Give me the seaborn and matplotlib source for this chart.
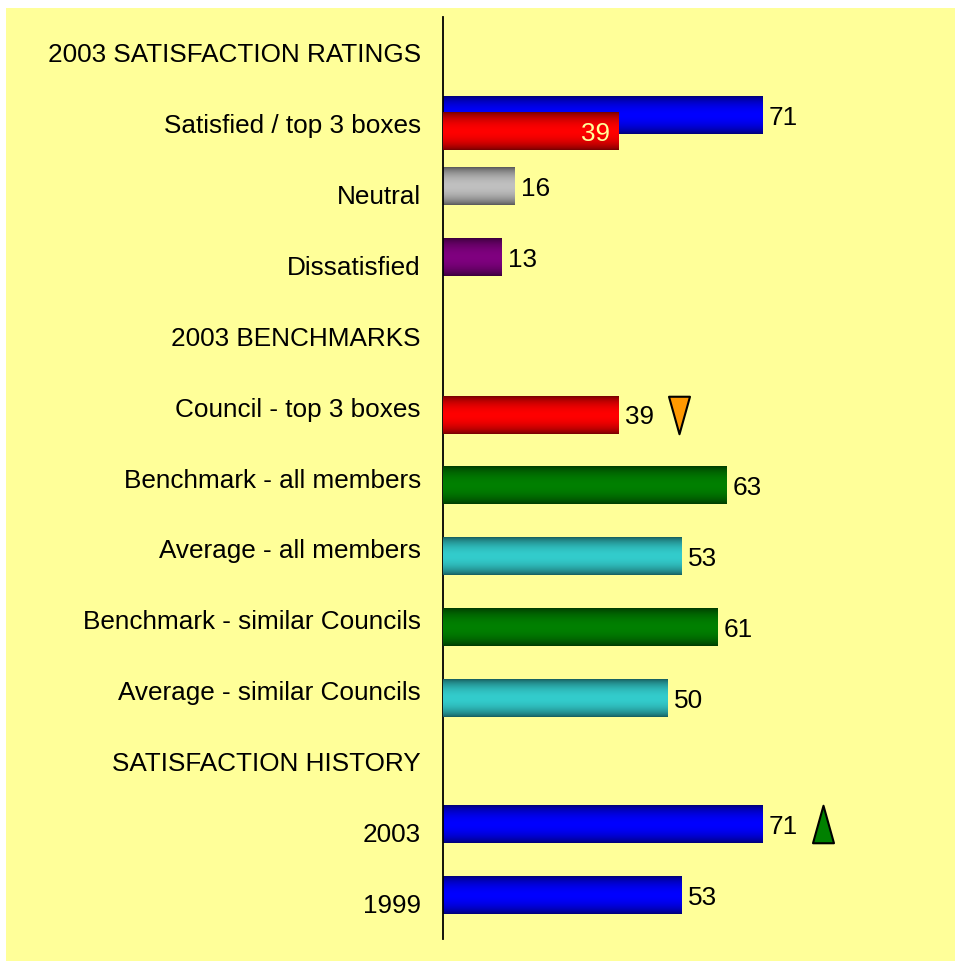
import os
import numpy as np
import pandas as pd
import matplotlib
matplotlib.use("Agg")
import matplotlib.pyplot as plt
import matplotlib.colors as mcolors
from matplotlib import font_manager as fm
from matplotlib.patches import Rectangle
from matplotlib.path import Path
import seaborn as sns

# Row order of the chart (section headers have no bars)
categories = [
    "2003 SATISFACTION RATINGS",
    "Satisfied / top 3 boxes",
    "Neutral",
    "Dissatisfied",
    "2003 BENCHMARKS",
    "Council - top 3 boxes",
    "Benchmark - all members",
    "Average - all members",
    "Benchmark - similar Councils",
    "Average - similar Councils",
    "SATISFACTION HISTORY",
    "2003",
    "1999",
]

# First series (upper bar in a row)
series_a_cats = ["Satisfied / top 3 boxes", "Neutral", "Dissatisfied", "2003", "1999"]
series_a_vals = [71, 16, 13, 71, 53]
series_a_colors = ["#0000FF", "#C0C0C0", "#800080", "#0000FF", "#0000FF"]

# Second series (lower bar in a row)
series_b_cats = ["Satisfied / top 3 boxes", "Council - top 3 boxes", "Benchmark - all members",
                 "Average - all members", "Benchmark - similar Councils", "Average - similar Councils"]
series_b_vals = [39, 39, 63, 53, 61, 50]
series_b_colors = ["#FF0000", "#FF0000", "#008000", "#33CCCC", "#008000", "#33CCCC"]
series_b_label_inside = [True, False, False, False, False, False]

# Trend arrows next to some bars
trend_cats = ["Council - top 3 boxes", "2003"]
trend_dirs = ["down", "up"]
trend_colors = ["#FF9900", "#008000"]

BG = "#FFFF99"
FONT = 18.8
PX_PER_UNIT = 4.5


def regular_font():
    # pick the regular (not narrow) Liberation Sans file explicitly
    for f in fm.fontManager.ttflist:
        if os.path.basename(f.fname).lower() == "liberationsans-regular.ttf":
            return fm.FontProperties(fname=f.fname, size=FONT)
    return fm.FontProperties(family="DejaVu Sans", size=FONT)


def shade(ax, patch, z):
    # cylinder-like vertical gradient: dark edges, bright middle
    x, y = patch.get_x(), patch.get_y()
    w, h = patch.get_width(), patch.get_height()
    base = np.array(mcolors.to_rgb(patch.get_facecolor()))
    t = np.linspace(0, 1, 80)
    f = 0.45 + 0.55 * np.clip(np.sin(np.pi * t), 0, 1) ** 0.7
    img = (f[:, None] * base[None, :])[:, None, :]
    ax.imshow(img, extent=[x, x + w, y + h, y], aspect="auto",
              interpolation="bilinear", zorder=z)
    patch.set_visible(False)


def draw_series(ax, cats, vals, colors, offset, z):
    df = pd.DataFrame({"category": cats, "value": vals})
    n0 = len(ax.patches)
    sns.barplot(data=df, x="value", y="category", hue="category", order=categories,
                hue_order=cats, palette=dict(zip(cats, colors)), width=0.53,
                saturation=1, legend=False, orient="h", ax=ax)
    bars = ax.patches[n0:]
    centers = {}
    for p in bars:
        p.set_y(p.get_y() + offset)
        shade(ax, p, z)
        centers[round(p.get_y() + p.get_height() / 2 - offset)] = (p.get_width(), p.get_y() + p.get_height() / 2)
    return centers


sns.set_style("white")
plt.rcParams["font.family"] = ["Liberation Sans", "DejaVu Sans"]
fp = regular_font()

fig = plt.figure(figsize=(9.55, 9.61), dpi=100)
fig.patches.append(Rectangle((6 / 955, 0), 1, 1 - 8 / 961, transform=fig.transFigure,
                             facecolor=BG, edgecolor="none", zorder=-10))
ax = fig.add_axes([443 / 955, 22 / 961, 512 / 955, 922 / 961])
ax.set_facecolor("none")

cen_a = draw_series(ax, series_a_cats, series_a_vals, series_a_colors, -0.115, 2)
cen_b = draw_series(ax, series_b_cats, series_b_vals, series_b_colors, 0.108, 3)

# value labels
for centers, cats, inside in [(cen_a, series_a_cats, [False] * len(series_a_cats)),
                              (cen_b, series_b_cats, series_b_label_inside)]:
    for c, ins in zip(cats, inside):
        v, yc = centers[categories.index(c)]
        if ins:
            ax.annotate(f"{v:g}", xy=(v, yc), xytext=(-6, 0), textcoords="offset points",
                        ha="right", va="center_baseline", fontproperties=fp, color=BG, zorder=6)
        else:
            ax.annotate(f"{v:g}", xy=(v, yc), xytext=(4.5, 0), textcoords="offset points",
                        ha="left", va="center_baseline", fontproperties=fp, color="black", zorder=6)

# trend markers
down = Path([(-0.56, 1), (0.56, 1), (0, -1), (-0.56, 1)],
            [Path.MOVETO, Path.LINETO, Path.LINETO, Path.CLOSEPOLY])
up = Path([(-0.56, -1), (0.56, -1), (0, 1), (-0.56, -1)],
          [Path.MOVETO, Path.LINETO, Path.LINETO, Path.CLOSEPOLY])
for c, d, col in zip(trend_cats, trend_dirs, trend_colors):
    idx = categories.index(c)
    v, yc = cen_b[idx] if idx in cen_b else cen_a[idx]
    ax.scatter([v + 13.5], [yc], marker=down if d == "down" else up, s=27 ** 2,
               color=col, edgecolor="black", linewidth=1.5, zorder=6)

ax.set_xlim(0, 512 / PX_PER_UNIT)
ax.set_ylim(len(categories) - 0.5, -0.5)
ax.set_xticks([])
ax.set_yticks(range(len(categories)))
ax.set_yticklabels(categories, fontproperties=fp, color="black")
ax.set_xlabel("")
ax.set_ylabel("")
ax.tick_params(axis="y", length=0, pad=16)
for s in ["top", "right", "bottom"]:
    ax.spines[s].set_visible(False)
ax.spines["left"].set_color("black")
ax.spines["left"].set_linewidth(1.3)

fig.savefig("out.png", dpi=100, facecolor="white")
